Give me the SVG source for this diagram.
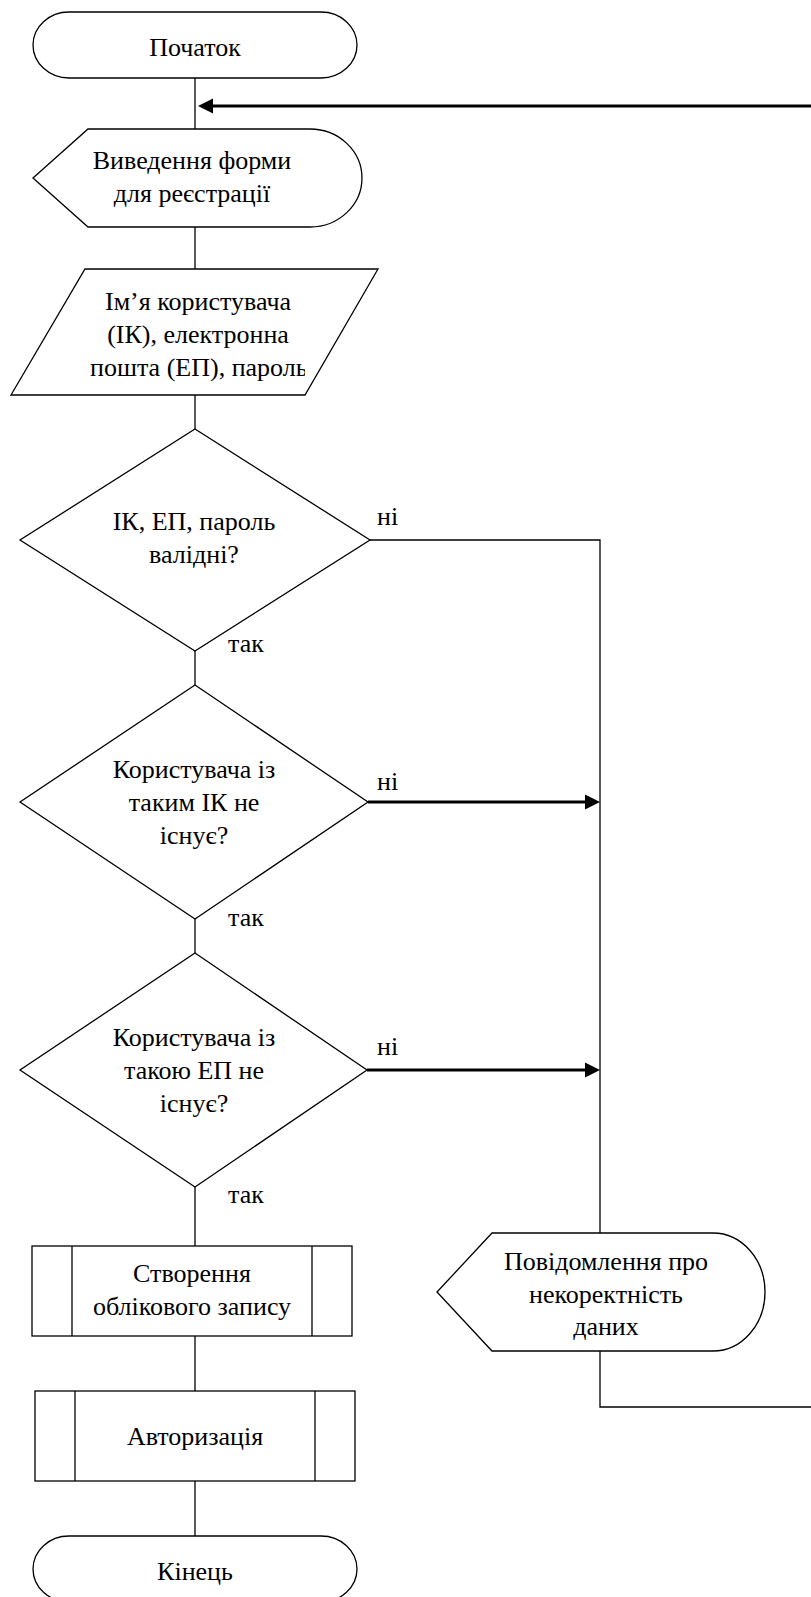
<svg xmlns="http://www.w3.org/2000/svg" width="811" height="1597" viewBox="0 0 811 1597" font-family="'Liberation Serif', 'DejaVu Serif', serif" font-size="26">
  <style>
    .shape { fill: #ffffff; stroke: #000000; stroke-width: 1.3; }
    .line { fill: none; stroke: #000000; stroke-width: 1.3; }
    .thick { fill: none; stroke: #000000; stroke-width: 3; }
    .head { fill: #000000; stroke: none; }
    text { font-family: 'Liberation Serif', 'DejaVu Serif', serif; font-size: 26px; fill: #000000; }
    .c { text-anchor: middle; }
  </style>
  <defs>
    <clipPath id="clip-input">
      <rect x="0" y="350" width="305" height="40"/>
    </clipPath>
  </defs>
  <rect x="0" y="0" width="811" height="1597" fill="#ffffff"/>

  <!-- connectors -->
  <g id="connectors">
    <!-- main flow -->
    <line class="line" x1="195" y1="78" x2="195" y2="129"/>
    <line class="line" x1="195" y1="227" x2="195" y2="269"/>
    <line class="line" x1="195" y1="395" x2="195" y2="429"/>
    <line class="line" x1="195" y1="651" x2="195" y2="685"/>
    <line class="line" x1="195" y1="919" x2="195" y2="953"/>
    <line class="line" x1="195" y1="1187" x2="195" y2="1246"/>
    <line class="line" x1="195" y1="1336" x2="195" y2="1391"/>
    <line class="line" x1="195" y1="1481" x2="195" y2="1536"/>
    <!-- loop back to the form -->
    <line class="thick" x1="811" y1="106" x2="212" y2="106"/>
    <polygon class="head" points="198,106 213,98.5 213,113.5"/>
    <!-- "no" branches -->
    <polyline class="line" points="370,540 600,540 600,1233"/>
    <line class="thick" x1="368" y1="802" x2="586" y2="802"/>
    <polygon class="head" points="600,802 585,794.5 585,809.5"/>
    <line class="thick" x1="367" y1="1070" x2="586" y2="1070"/>
    <polygon class="head" points="600,1070 585,1062.5 585,1077.5"/>
    <polyline class="line" points="600,1351 600,1407 811,1407"/>
    <!-- branch labels -->
    <text x="377" y="525">ні</text>
    <text x="228" y="652">так</text>
    <text x="377" y="790">ні</text>
    <text x="228" y="926">так</text>
    <text x="377" y="1055">ні</text>
    <text x="228" y="1203">так</text>
  </g>

  <g id="start">
    <rect class="shape" x="33" y="12" width="324" height="66" rx="36" ry="33"/>
    <text class="c" x="195" y="56">Початок</text>
  </g>

  <g id="show-form">
    <path class="shape" d="M33,178 L88,129 L310,129 A52,49 0 0 1 310,227 L88,227 Z"/>
    <text class="c" x="192" y="169">Виведення форми</text>
    <text class="c" x="192" y="202">для реєстрації</text>
  </g>

  <g id="input-data">
    <polygon class="shape" points="85,269 378,269 305,395 11,395"/>
    <text class="c" x="198" y="310">Ім’я користувача</text>
    <text class="c" x="198" y="343">(ІК), електронна</text>
    <text x="90" y="376" clip-path="url(#clip-input)">пошта (ЕП), пароль</text>
  </g>

  <g id="check-valid">
    <polygon class="shape" points="195,429 370,540 195,651 20,540"/>
    <text class="c" x="194" y="530">ІК, ЕП, пароль</text>
    <text class="c" x="194" y="563">валідні?</text>
  </g>

  <g id="check-username">
    <polygon class="shape" points="195,685 368,802 195,919 20,802"/>
    <text class="c" x="194" y="778">Користувача із</text>
    <text class="c" x="194" y="811">таким ІК не</text>
    <text class="c" x="194" y="844">існує?</text>
  </g>

  <g id="check-email">
    <polygon class="shape" points="195,953 367,1070 195,1187 20,1070"/>
    <text class="c" x="194" y="1046">Користувача із</text>
    <text class="c" x="194" y="1079">такою ЕП не</text>
    <text class="c" x="194" y="1112">існує?</text>
  </g>

  <g id="create-account">
    <rect class="shape" x="32" y="1246" width="320" height="90"/>
    <line class="line" x1="72" y1="1246" x2="72" y2="1336"/>
    <line class="line" x1="312" y1="1246" x2="312" y2="1336"/>
    <text class="c" x="192" y="1282">Створення</text>
    <text class="c" x="192" y="1315">облікового запису</text>
  </g>

  <g id="authorize">
    <rect class="shape" x="35" y="1391" width="320" height="90"/>
    <line class="line" x1="75" y1="1391" x2="75" y2="1481"/>
    <line class="line" x1="315" y1="1391" x2="315" y2="1481"/>
    <text class="c" x="195" y="1445">Авторизація</text>
  </g>

  <g id="end">
    <rect class="shape" x="33" y="1536" width="324" height="66" rx="36" ry="33"/>
    <text class="c" x="195" y="1580">Кінець</text>
  </g>

  <g id="error-message">
    <path class="shape" d="M437,1292 L492,1233 L713,1233 A52,59 0 0 1 713,1351 L492,1351 Z"/>
    <text class="c" x="606" y="1270">Повідомлення про</text>
    <text class="c" x="606" y="1303">некоректність</text>
    <text class="c" x="606" y="1335">даних</text>
  </g>
</svg>
